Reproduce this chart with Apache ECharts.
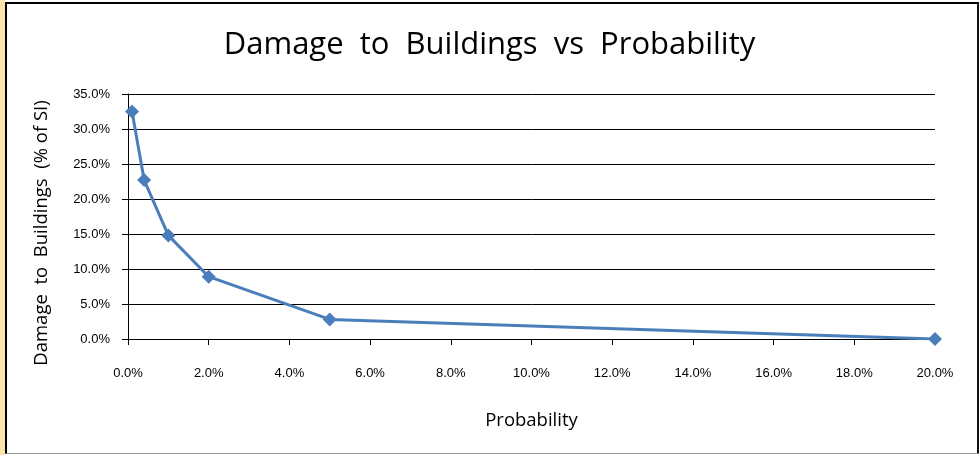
<!DOCTYPE html>
<html>
<head>
<meta charset="utf-8">
<script src="https://cdn.jsdelivr.net/npm/echarts@6/dist/echarts.min.js"></script>
<style>
  html, body { margin: 0; padding: 0; background: #ffffff; }
  #wrap { position: relative; width: 979px; height: 455px; overflow: hidden; }
  #strip { position: absolute; left: 0; top: 0; width: 5px; height: 455px; background: #fde4a8; }
  #chart { position: absolute; left: 0; top: 0; width: 979px; height: 455px; }
  #frame {
    position: absolute; left: 5px; top: 2px; width: 970px; height: 449px;
    border-left: 2px solid #000; border-top: 2px solid #000;
    border-right: 3px solid #111; border-bottom: 1px solid #999;
    pointer-events: none;
  }
</style>
</head>
<body>
<div id="wrap">
  <div id="chart"></div>
  <div id="strip"></div>
  <div id="frame"></div>
</div>
<script>
// Annual exceedance probability vs. building damage (share of sum insured)
const probability = [0.001, 0.004, 0.01, 0.02, 0.05, 0.20];
const damage = [0.325, 0.227, 0.148, 0.089, 0.028, 0.0];
const xTicks = { min: 0, max: 0.20, step: 0.02 };
const yTicks = { min: 0, max: 0.35, step: 0.05 };

const pct = v => (v * 100).toFixed(1) + '%';
const points = probability.map((p, i) => [p, damage[i]]);

const chart = echarts.init(document.getElementById('chart'), null, { renderer: 'canvas' });
chart.setOption({
  animation: false,
  backgroundColor: '#ffffff',
  title: {
    text: 'Damage  to  Buildings  vs  Probability',
    left: 'center',
    top: 25,
    textStyle: { fontFamily: 'Open Sans', fontWeight: 'normal', fontSize: 31, color: '#000' }
  },
  grid: { left: 128, right: 44, top: 94, bottom: 116 },
  xAxis: {
    type: 'value',
    min: xTicks.min, max: xTicks.max, interval: xTicks.step,
    name: 'Probability',
    nameLocation: 'middle',
    nameGap: 72,
    nameTextStyle: { fontFamily: 'Open Sans', fontSize: 18.5, color: '#000' },
    axisLine: { lineStyle: { color: '#000', width: 1 } },
    axisTick: { show: true, length: 6, lineStyle: { color: '#000' } },
    axisLabel: { formatter: pct, margin: 28, fontFamily: 'Liberation Sans', fontSize: 13, color: '#000' },
    splitLine: { show: false }
  },
  yAxis: {
    type: 'value',
    min: yTicks.min, max: yTicks.max, interval: yTicks.step,
    name: 'Damage  to  Buildings  (% of SI)',
    nameLocation: 'middle',
    nameGap: 77,
    nameTextStyle: { fontFamily: 'Open Sans', fontSize: 18.5, color: '#000', padding: [0, 0, 0, -33] },
    axisLine: { show: true, lineStyle: { color: '#000', width: 1 } },
    axisTick: { show: true, length: 6, lineStyle: { color: '#000' } },
    axisLabel: { formatter: pct, margin: 18, fontFamily: 'Liberation Sans', fontSize: 13, color: '#000' },
    splitLine: { show: true, lineStyle: { color: '#000', width: 1 } }
  },
  series: [{
    type: 'line',
    data: points,
    symbol: 'diamond',
    symbolSize: 14,
    lineStyle: { color: '#4a7ebb', width: 3 },
    itemStyle: { color: '#4a7ebb' }
  }]
});
</script>
</body>
</html>
